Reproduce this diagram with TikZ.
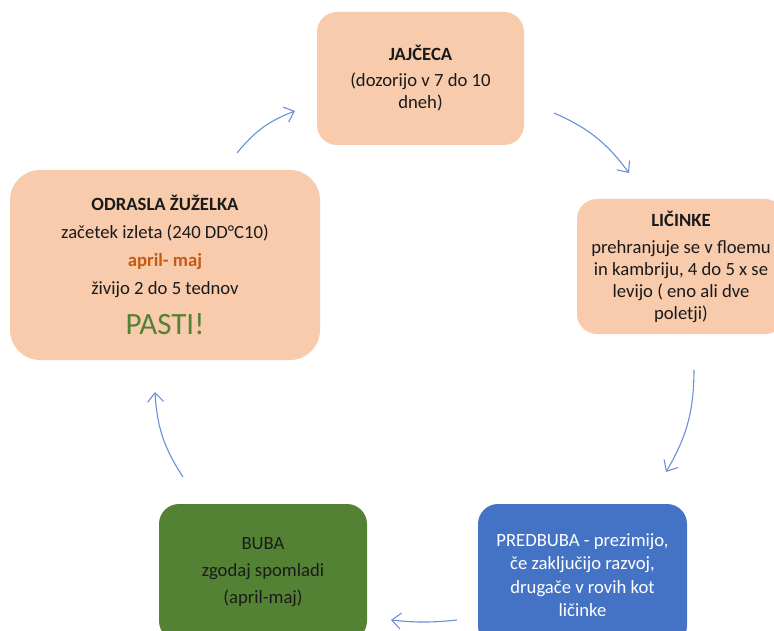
\documentclass[tikz,border=0pt]{standalone}
\usepackage{fontspec}
\setmainfont{Carlito}
\usetikzlibrary{arrows.meta}
\definecolor{peach}{HTML}{F8CBAD}
\definecolor{leafgreen}{HTML}{548235}
\definecolor{pupablue}{HTML}{4472C4}
\definecolor{arrowblue}{HTML}{6A8FDA}
\definecolor{rust}{HTML}{C55A11}
\definecolor{darktext}{HTML}{1A1A1A}
\begin{document}
\begin{tikzpicture}[x=1pt,y=-1pt,
  stagebox/.style={rectangle, rounded corners=20pt, inner sep=0pt, align=center,
    text=darktext, font=\fontsize{18.67}{22}\selectfont},
  peachbox/.style={stagebox, fill=peach},
  cyclearrow/.style={draw=arrowblue, line width=1.1pt,
    -{Straight Barb[length=9pt,width=16pt,line width=1.1pt]}, bend left=15}]
\useasboundingbox (0,0) rectangle (774,631);
\clip (0,0) rectangle (774,631);

% stages of the life cycle
\node[peachbox, minimum width=207pt, minimum height=133pt] (egg) at (420.5,78.5)
  {\textbf{JAJČECA}\\[4pt](dozorijo v 7 do 10\\dneh)};
\node[peachbox, minimum width=208pt, minimum height=135pt] (larva) at (681,266.5)
  {\textbf{LIČINKE}\\[5pt]prehranjuje se v floemu\\in kambriju, 4 do 5 x se\\levijo ( eno ali dve\\poletji)};
\node[stagebox, fill=pupablue, text=white, minimum width=209pt, minimum height=142pt,
  font=\fontsize{18.67}{23.5}\selectfont] (prepupa) at (582.5,575)
  {PREDBUBA - prezimijo,\\če zaključijo razvoj,\\drugače v rovih kot\\ličinke};
\node[stagebox, fill=leafgreen, minimum width=208pt, minimum height=137pt,
  font=\fontsize{18.67}{27}\selectfont] (pupa) at (263,572.5)
  {BUBA\\zgodaj spomladi\\(april-maj)};
\node[peachbox, rounded corners=30pt, minimum width=310pt, minimum height=190pt,
  font=\fontsize{18.67}{28}\selectfont] (adult) at (165,265)
  {\textbf{ODRASLA ŽUŽELKA}\\začetek izleta (240 DD°C10)\\\textcolor{rust}{\textbf{april- maj}}\\živijo 2 do 5 tednov\\[12pt]
   {\fontsize{31}{36}\selectfont\textcolor{leafgreen}{PASTI!}}};

% free ends of the cycle arrows
\coordinate (a1s) at (237,153);  \coordinate (a1e) at (295,111);
\coordinate (a2s) at (554,113);  \coordinate (a2e) at (629,173);
\coordinate (a3s) at (694,370);  \coordinate (a3e) at (666,472);
\coordinate (a4s) at (457,620);  \coordinate (a4e) at (391,620);
\coordinate (a5s) at (183,477);  \coordinate (a5e) at (155,392);

\draw[cyclearrow] (a1s) to (a1e);
\draw[cyclearrow] (a2s) to (a2e);
\draw[cyclearrow] (a3s) to (a3e);
\draw[cyclearrow, bend left=6] (a4s) to (a4e);
\draw[cyclearrow] (a5s) to (a5e);
\end{tikzpicture}
\end{document}
